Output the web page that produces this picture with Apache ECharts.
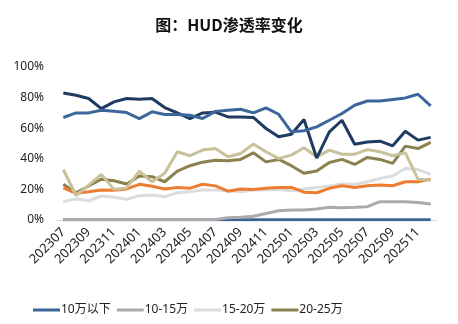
<!DOCTYPE html>
<html>
<head>
<meta charset="utf-8">
<script src="https://cdn.jsdelivr.net/npm/echarts@6/dist/echarts.min.js"></script>
<style>
  html, body { margin: 0; padding: 0; background: #fff; }
  #chart { width: 458px; height: 324px; }
</style>
</head>
<body>
<div id="chart"></div>
<script>
// Months, 2023-07 through 2025-12
const months = [
  '202307','202308','202309','202310','202311','202312',
  '202401','202402','202403','202404','202405','202406',
  '202407','202408','202409','202410','202411','202412',
  '202501','202502','202503','202504','202505','202506',
  '202507','202508','202509','202510','202511','202512'
];

// HUD penetration by vehicle price band (%)
const below10 = [0.2,0.2,0.2,0.2,0.2,0.2,0.2,0.2,0.2,0.2,0.2,0.2,0.2,0.2,0.2,0.2,0.2,0.2,0.2,0.2,0.2,0.2,0.2,0.2,0.2,0.2,0.2,0.2,0.2,0.2];
const band10to15 = [0.3,0.3,0.3,0.3,0.3,0.3,0.3,0.3,0.3,0.3,0.3,0.3,0.3,1.5,1.8,2.5,4.3,6.0,6.5,6.5,7.2,8.3,8.0,8.3,8.7,12.0,12.0,12.0,11.4,10.4];
const band15to20 = [12.0,13.7,12.6,15.7,14.8,13.5,15.9,16.3,15.2,17.8,18.5,19.6,19.6,19.1,18.5,19.6,19.6,20.0,19.1,20.3,21.3,22.2,23.5,23.3,25.0,27.2,28.7,33.7,33.0,29.8];
const band20to25 = [23.3,17.8,22.2,26.7,25.7,23.5,28.7,28.3,25.0,32.0,35.5,37.8,39.1,38.7,39.6,43.9,38.0,39.6,35.5,30.5,32.0,37.6,39.6,36.3,40.9,39.6,37.0,48.3,46.7,50.7];
const band25to30 = [21.0,17.4,18.5,19.6,19.4,20.3,23.3,22.0,20.3,21.2,20.8,23.4,22.3,18.8,20.2,20.0,20.7,21.3,21.3,18.2,17.8,20.7,22.4,21.3,22.4,22.8,22.4,25.0,25.0,26.7];
const band30to35 = [33.0,16.0,22.8,29.8,20.0,21.0,32.0,25.0,30.6,44.6,42.0,45.7,46.7,41.3,43.5,49.6,44.6,40.2,42.4,47.2,41.3,45.7,43.0,43.0,46.0,44.6,42.0,43.9,26.7,26.1];
const band35to40 = [83.0,81.5,79.4,72.8,77.2,79.4,79.0,79.4,73.5,70.0,66.3,70.0,70.5,67.4,67.4,67.0,59.8,54.4,56.1,65.7,40.5,57.6,65.2,49.5,51.0,51.5,48.5,58.0,52.2,54.0];
const above40 = [67.0,70.0,70.0,71.7,71.1,70.2,66.3,70.7,68.9,69.0,68.5,66.3,71.0,71.7,72.4,70.0,73.3,69.1,57.6,58.3,60.9,65.2,69.6,75.0,77.8,77.8,78.7,79.8,82.2,74.6];

const yTicks = [0, 20, 40, 60, 80, 100];

const seriesDefs = [
  { name: '10万以下', data: below10,     color: '#3b6597' },
  { name: '10-15万', data: band10to15,  color: '#ababab' },
  { name: '15-20万', data: band15to20,  color: '#dcdcdc' },
  { name: '20-25万', data: band20to25,  color: '#8b8150' },
  { name: '25-30万', data: band25to30,  color: '#ed7d31' },
  { name: '30-35万', data: band30to35,  color: '#c9c199' },
  { name: '35-40万', data: band35to40,  color: '#1f3b61' },
  { name: '40万以上', data: above40,    color: '#3d679a' }
];

const font = '"Noto Sans", "Noto Sans CJK SC", sans-serif';

const chart = echarts.init(document.getElementById('chart'), null, { renderer: 'canvas' });

chart.setOption({
  animation: false,
  backgroundColor: '#ffffff',
  title: {
    text: '图：HUD渗透率变化',
    left: 'center',
    top: 12,
    textStyle: {
      fontFamily: '"Noto Sans CJK SC", sans-serif',
      fontSize: 16,
      fontWeight: 'bold',
      color: '#111'
    }
  },
  legend: {
    data: seriesDefs.slice(0, 4).map(s => s.name),
    left: 28,
    bottom: 3,
    icon: 'rect',
    itemWidth: 27,
    itemHeight: 3,
    itemGap: 6,
    textStyle: {
      fontFamily: font,
      fontSize: 12,
      color: '#222',
      width: 70,
      padding: [0, 0, 0, -4]
    }
  },
  grid: {
    left: 57,
    right: 21,
    top: 67,
    bottom: 104,
    containLabel: false
  },
  xAxis: {
    type: 'category',
    data: months,
    boundaryGap: true,
    axisLine: { show: true, lineStyle: { color: '#d9d9d9', width: 1 } },
    axisTick: { show: false },
    axisLabel: {
      interval: 1,
      rotate: 45,
      margin: 10,
      fontFamily: font,
      fontSize: 13,
      color: '#222'
    },
    splitLine: { show: false }
  },
  yAxis: {
    type: 'value',
    min: yTicks[0],
    max: yTicks[yTicks.length - 1],
    interval: 20,
    axisLine: { show: false },
    axisTick: { show: false },
    splitLine: { show: false },
    axisLabel: {
      margin: 13,
      fontFamily: font,
      fontSize: 12,
      color: '#222',
      formatter: v => v + '%'
    }
  },
  series: seriesDefs.map(s => ({
    name: s.name,
    type: 'line',
    data: s.data,
    showSymbol: false,
    symbol: 'none',
    itemStyle: { color: s.color },
    lineStyle: { color: s.color, width: 3 },
    emphasis: { disabled: true }
  }))
});
</script>
</body>
</html>
